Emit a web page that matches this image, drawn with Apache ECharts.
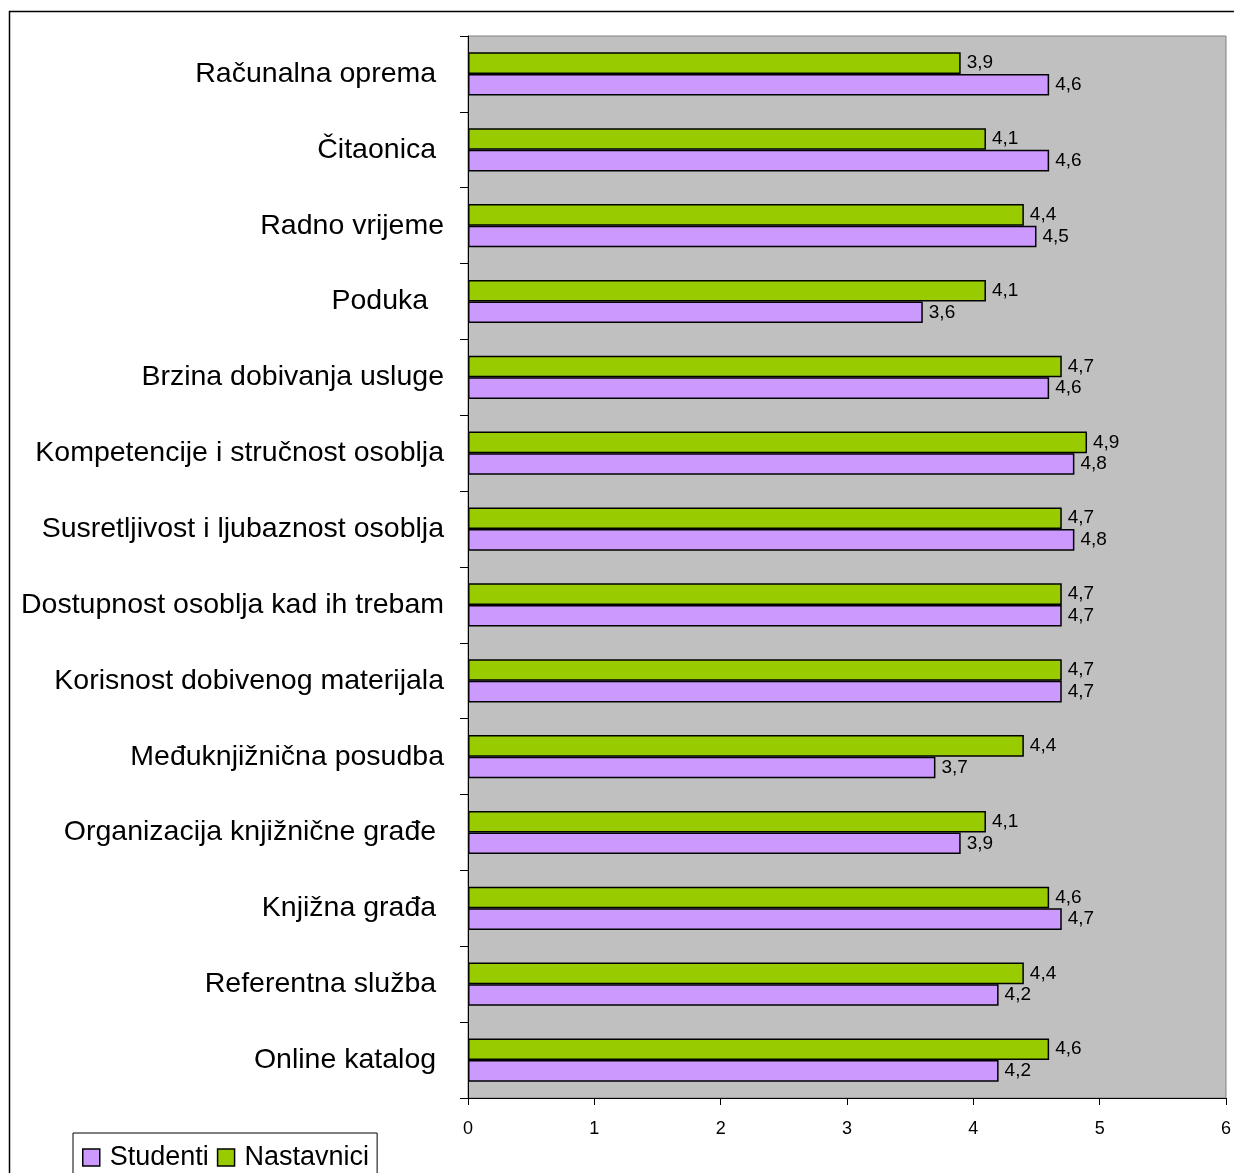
<!DOCTYPE html>
<html>
<head>
<meta charset="utf-8">
<script src="https://cdn.jsdelivr.net/npm/echarts@6/dist/echarts.min.js"></script>
<style>html,body{margin:0;padding:0;background:#fff;}#c{width:1234px;height:1173px;}</style>
</head>
<body>
<div id="c"></div>
<script>
// categories top to bottom as in the picture
const categories = [
  'Računalna oprema ', 'Čitaonica ', 'Radno vrijeme', 'Poduka  ', 'Brzina dobivanja usluge',
  'Kompetencije i stručnost osoblja', 'Susretljivost i ljubaznost osoblja', 'Dostupnost osoblja kad ih trebam',
  'Korisnost dobivenog materijala', 'Međuknjižnična posudba', 'Organizacija knjižnične građe ',
  'Knjižna građa ', 'Referentna služba ', 'Online katalog '
];
const studenti =   [4.6, 4.6, 4.5, 3.6, 4.6, 4.8, 4.8, 4.7, 4.7, 3.7, 3.9, 4.7, 4.2, 4.2];
const nastavnici = [3.9, 4.1, 4.4, 4.1, 4.7, 4.9, 4.7, 4.7, 4.7, 4.4, 4.1, 4.6, 4.4, 4.6];
const xTicks = [0, 1, 2, 3, 4, 5, 6];

const cats = categories.slice().reverse();
const s1 = studenti.slice().reverse();
const s2 = nastavnici.slice().reverse();
const font = 'Liberation Sans, Arial, sans-serif';
const fmt = p => String(p.value).replace('.', ',');

const chart = echarts.init(document.getElementById('c'), null, {renderer: 'canvas'});
chart.setOption({
  animation: false,
  graphic: [{
    type: 'rect', z: -10,
    shape: {x: 9.5, y: 11.5, width: 1240, height: 1180},
    style: {fill: 'none', stroke: '#000', lineWidth: 1.5}
  }],
  grid: {left: 468, top: 36, right: 8, bottom: 75, show: true, backgroundColor: '#C0C0C0', borderColor: '#808080', borderWidth: 1},
  legend: {
    left: 73, top: 1133, orient: 'horizontal',
    borderColor: '#000', borderWidth: 1, padding: [11, 8, 10, 9],
    itemWidth: 17, itemHeight: 17, itemGap: 8, icon: 'rect',
    textStyle: {fontFamily: font, fontSize: 27, color: '#000', padding: [0, 0, 0, 5]},
    data: [
      {name: 'Studenti', itemStyle: {borderColor: '#000', borderWidth: 1.5}},
      {name: 'Nastavnici', itemStyle: {borderColor: '#000', borderWidth: 1.5}}
    ]
  },
  xAxis: {
    type: 'value', min: xTicks[0], max: xTicks[xTicks.length - 1], interval: 1,
    axisLine: {show: true, lineStyle: {color: '#000', width: 1}},
    axisTick: {show: true, length: 7, lineStyle: {color: '#000'}},
    axisLabel: {fontFamily: font, fontSize: 18, color: '#000', margin: 22},
    splitLine: {show: false}
  },
  yAxis: {
    type: 'category', data: cats,
    axisLine: {show: true, lineStyle: {color: '#000', width: 1}},
    axisTick: {show: true, length: 8, lineStyle: {color: '#000'}},
    axisLabel: {fontFamily: font, fontSize: 28.5, color: '#000', margin: 24, padding: [4, 0, 0, 0]}
  },
  series: [
    {
      name: 'Nastavnici', type: 'bar', data: s2, barGap: '0%', barCategoryGap: '43%',
      itemStyle: {color: '#99CC00', borderColor: '#000', borderWidth: 1.5},
      label: {show: true, position: 'right', distance: 6, formatter: fmt, fontFamily: font, fontSize: 19, color: '#000'}
    },
    {
      name: 'Studenti', type: 'bar', data: s1, barGap: '0%', barCategoryGap: '43%',
      itemStyle: {color: '#CC99FF', borderColor: '#000', borderWidth: 1.5},
      label: {show: true, position: 'right', distance: 6, formatter: fmt, fontFamily: font, fontSize: 19, color: '#000'}
    }
  ]
});
</script>
</body>
</html>
